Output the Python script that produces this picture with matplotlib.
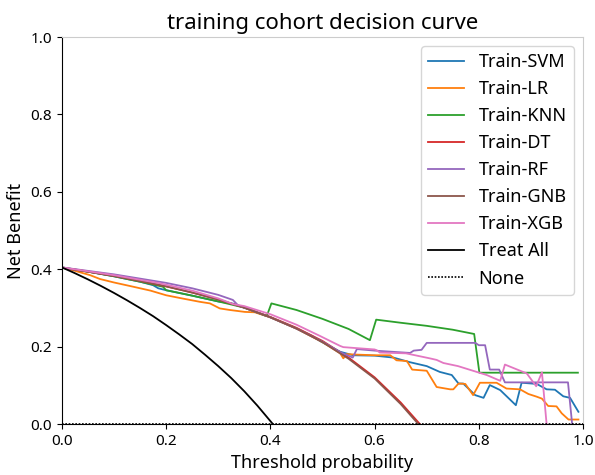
import matplotlib
matplotlib.use("Agg")
import matplotlib.pyplot as plt

plt.rcParams['font.family'] = ['Noto Sans', 'DejaVu Sans']

# ---- data ----
svm_t = [0, 0.05, 0.1, 0.15, 0.175, 0.185, 0.2, 0.25, 0.3, 0.33, 0.35, 0.4, 0.45, 0.48, 0.495,
         0.51, 0.534, 0.545, 0.559, 0.6, 0.636, 0.668, 0.70, 0.725, 0.748, 0.761, 0.77, 0.793,
         0.809, 0.821, 0.841, 0.871, 0.882, 0.911, 0.93, 0.946, 0.962, 0.975, 0.991]
svm_v = [0.405, 0.394, 0.382, 0.368, 0.359, 0.351, 0.346, 0.332, 0.317, 0.311, 0.301, 0.276,
         0.247, 0.228, 0.215, 0.204, 0.187, 0.183, 0.178, 0.177, 0.172, 0.160, 0.150, 0.135,
         0.127, 0.105, 0.105, 0.075, 0.068, 0.101, 0.088, 0.049, 0.107, 0.104, 0.090, 0.089,
         0.072, 0.068, 0.032]

lr_t = [0, 0.02, 0.054, 0.073, 0.1, 0.137, 0.17, 0.2, 0.23, 0.265, 0.284, 0.303, 0.322, 0.351,
        0.37, 0.4, 0.424, 0.45, 0.5, 0.534, 0.54, 0.546, 0.56, 0.6, 0.63, 0.642, 0.662, 0.672,
        0.70, 0.719, 0.745, 0.751, 0.761, 0.774, 0.789, 0.802, 0.834, 0.853, 0.879, 0.895,
        0.911, 0.921, 0.933, 0.949, 0.959, 0.972, 0.991]
lr_v = [0.405, 0.398, 0.385, 0.375, 0.366, 0.355, 0.345, 0.333, 0.325, 0.316, 0.312, 0.299,
        0.295, 0.290, 0.289, 0.276, 0.262, 0.247, 0.212, 0.183, 0.170, 0.181, 0.180, 0.178,
        0.178, 0.165, 0.163, 0.141, 0.138, 0.096, 0.090, 0.090, 0.105, 0.104, 0.075, 0.107,
        0.107, 0.092, 0.090, 0.078, 0.071, 0.066, 0.047, 0.046, 0.028, 0.012, 0.012]

knn_t = [0, 0.05, 0.1, 0.15, 0.194, 0.2, 0.25, 0.3, 0.316, 0.35, 0.393, 0.402, 0.45, 0.5,
         0.55, 0.591, 0.603, 0.65, 0.7, 0.75, 0.791, 0.801, 0.99]
knn_v = [0.405, 0.394, 0.382, 0.368, 0.355, 0.346, 0.332, 0.317, 0.312, 0.301, 0.279, 0.312,
         0.295, 0.272, 0.246, 0.217, 0.270, 0.262, 0.254, 0.244, 0.233, 0.133, 0.133]

dt_t = [0, 0.05, 0.1, 0.15, 0.2, 0.25, 0.3, 0.35, 0.4, 0.45, 0.5, 0.55, 0.6, 0.65, 0.687]
dt_v = [0.404, 0.394, 0.383, 0.370, 0.356, 0.340, 0.322, 0.301, 0.277, 0.249, 0.215, 0.172,
        0.121, 0.056, 0.0]

rf_t = [0, 0.05, 0.1, 0.15, 0.2, 0.25, 0.3, 0.328, 0.338, 0.35, 0.4, 0.45, 0.5, 0.534, 0.558,
        0.566, 0.6, 0.668, 0.675, 0.69, 0.70, 0.793, 0.80, 0.812, 0.821, 0.839, 0.85, 0.971,
        0.979]
rf_v = [0.405, 0.396, 0.387, 0.376, 0.365, 0.351, 0.334, 0.321, 0.307, 0.301, 0.276, 0.247,
        0.213, 0.186, 0.172, 0.194, 0.190, 0.184, 0.190, 0.192, 0.210, 0.210, 0.204, 0.204,
        0.141, 0.141, 0.108, 0.108, 0.0]

gnb_t = [0, 0.05, 0.1, 0.15, 0.2, 0.25, 0.3, 0.35, 0.4, 0.45, 0.5, 0.55, 0.6, 0.65, 0.684]
gnb_v = [0.404, 0.394, 0.383, 0.370, 0.356, 0.340, 0.322, 0.301, 0.276, 0.247, 0.212, 0.169,
         0.118, 0.052, 0.0]

xgb_t = [0, 0.05, 0.1, 0.15, 0.188, 0.25, 0.3, 0.329, 0.35, 0.4, 0.45, 0.495, 0.534, 0.54,
         0.6, 0.604, 0.61, 0.66, 0.706, 0.719, 0.732, 0.76, 0.815, 0.841, 0.85, 0.892, 0.91,
         0.921, 0.93]
xgb_v = [0.405, 0.395, 0.385, 0.373, 0.364, 0.345, 0.325, 0.310, 0.305, 0.284, 0.257, 0.228,
         0.202, 0.199, 0.193, 0.191, 0.185, 0.183, 0.170, 0.166, 0.158, 0.150, 0.127, 0.112,
         0.154, 0.131, 0.098, 0.134, 0.0]

all_t = [0, 0.025, 0.05, 0.075, 0.1, 0.125, 0.15, 0.175, 0.2, 0.225, 0.25, 0.275, 0.3, 0.325,
         0.35, 0.375, 0.4, 0.405]
all_v = [0.405, 0.390, 0.374, 0.357, 0.339, 0.320, 0.300, 0.279, 0.256, 0.232, 0.207, 0.179,
         0.150, 0.119, 0.085, 0.048, 0.008, 0.0]

none_t = [0, 1]
none_v = [0, 0]

series = [
    ("Train-SVM", svm_t, svm_v, "#1f77b4"),
    ("Train-LR", lr_t, lr_v, "#ff7f0e"),
    ("Train-KNN", knn_t, knn_v, "#2ca02c"),
    ("Train-DT", dt_t, dt_v, "#d62728"),
    ("Train-RF", rf_t, rf_v, "#9467bd"),
    ("Train-GNB", gnb_t, gnb_v, "#8c564b"),
    ("Train-XGB", xgb_t, xgb_v, "#e377c2"),
]

fig = plt.figure(figsize=(5.95, 4.75), dpi=100)
ax = fig.add_axes([0.104, 0.107, 0.876, 0.815])

for name, t, v, c in series:
    ax.plot(t, v, color=c, lw=1.3, label=name)
ax.plot(all_t, all_v, color="black", lw=1.3, label="Treat All")
ax.plot(none_t, none_v, color="black", lw=1.2, ls=(0, (1, 1)), label="None")

ax.set_xlim(0, 1)
ax.set_ylim(0, 1)
ax.set_xticks([0, 0.2, 0.4, 0.6, 0.8, 1.0])
ax.set_yticks([0, 0.2, 0.4, 0.6, 0.8, 1.0])
ax.tick_params(labelsize=11)
ax.set_xlabel("Threshold probability", fontsize=13)
ax.set_ylabel("Net Benefit", fontsize=13)
ax.set_title("training cohort decision curve", fontsize=16)
for s in ("top", "right"):
    ax.spines[s].set_color("#cccccc")
ax.legend(loc="upper right", fontsize=13, handlelength=2.0)

fig.savefig("out.png", dpi=100)
